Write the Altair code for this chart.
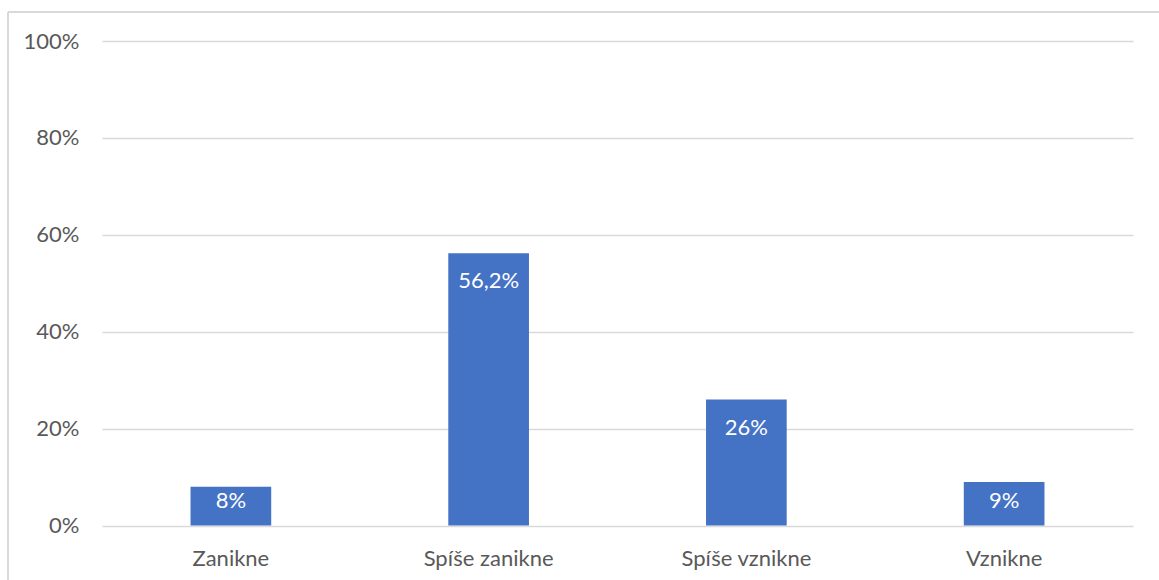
import altair as alt
import pandas as pd

categories = ["Zanikne", "Spíše zanikne", "Spíše vznikne", "Vznikne"]
values = [8, 56.2, 26, 9]
labels = ["8%", "56,2%", "26%", "9%"]

FONT = "Lato"
FONT_SIZE = 22
TEXT_GREY = "#595959"
GRID_GREY = "#D9D9D9"
BAR_BLUE = "#4472C4"

df = pd.DataFrame({"kategorie": categories, "podil": values, "popisek": labels})

W, H = 1031, 484.5

x_enc = alt.X(
    "kategorie:N",
    sort=categories,
    title=None,
    scale=alt.Scale(paddingInner=0.687, paddingOuter=0.3435),
    axis=alt.Axis(
        labelAngle=0,
        ticks=False,
        domain=False,
        labelFont=FONT,
        labelFontSize=FONT_SIZE,
        labelColor=TEXT_GREY,
        labelPadding=23,
        grid=False,
    ),
)

y_scale = alt.Scale(domain=[0, 100], nice=False)

bars = alt.Chart(df).mark_bar(color=BAR_BLUE).encode(
    x=x_enc,
    y=alt.Y(
        "podil:Q",
        title=None,
        scale=y_scale,
        axis=alt.Axis(
            values=[0, 20, 40, 60, 80, 100],
            labelExpr="datum.value + '%'",
            ticks=False,
            domain=False,
            gridColor=GRID_GREY,
            gridWidth=1.3,
            labelFont=FONT,
            labelFontSize=FONT_SIZE,
            labelColor=TEXT_GREY,
            labelPadding=23,
        ),
    ),
)

# value labels sit just inside the top of each bar, kept above the baseline for short bars
text = (
    alt.Chart(df)
    .transform_calculate(pozice="max(datum.podil - 5.8, 5.0)")
    .mark_text(color="white", font=FONT, fontSize=FONT_SIZE, baseline="middle")
    .encode(
        x=alt.X("kategorie:N", sort=categories),
        y=alt.Y("pozice:Q", scale=y_scale),
        text="popisek:N",
    )
)

# outer chart frame (top and left edges)
frame_top = alt.Chart(df).mark_rule(color=GRID_GREY, strokeWidth=1.5).encode(
    x=alt.value(-94), x2=alt.value(1080), y=alt.value(-29)
)
frame_left = alt.Chart(df).mark_rule(color=GRID_GREY, strokeWidth=1.5).encode(
    x=alt.value(-94), y=alt.value(-29), y2=alt.value(560)
)

chart = (
    alt.layer(bars, text, frame_top, frame_left)
    .properties(
        width=W,
        height=H,
        autosize=alt.AutoSizeParams(type="none"),
        padding={"left": 102, "top": 41, "right": 26, "bottom": 55},
        background="white",
    )
    .configure_view(stroke=None)
)

chart.save("out.html", embed_options={"renderer": "svg", "actions": False})
